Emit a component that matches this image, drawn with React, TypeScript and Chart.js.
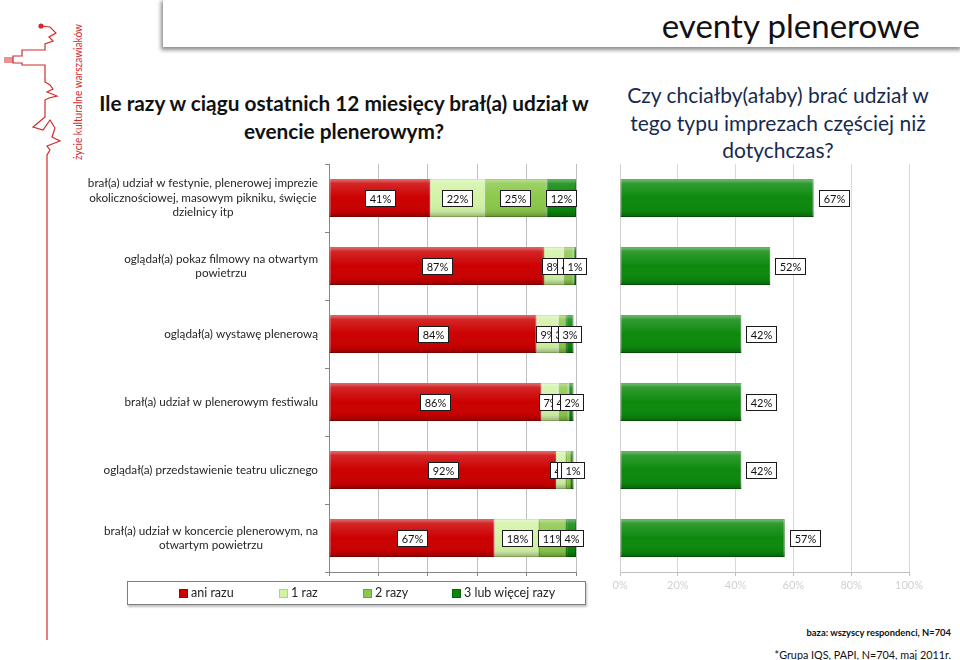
import React, { useEffect, useRef } from "react";
import { Chart, registerables } from "chart.js";

Chart.register(...registerables);

const categories: string[][] = [
  ["brał(a) udział w festynie, plenerowej imprezie", "okolicznościowej, masowym pikniku, święcie", "dzielnicy itp"],
  ["oglądał(a) pokaz filmowy na otwartym", "powietrzu"],
  ["oglądał(a) wystawę plenerową"],
  ["brał(a) udział w plenerowym festiwalu"],
  ["oglądał(a) przedstawienie teatru ulicznego"],
  ["brał(a) udział w koncercie plenerowym, na", "otwartym powietrzu"],
];
const seriesNames = ["ani razu", "1 raz", "2 razy", "3 lub więcej razy"];
const aniRazu = [41, 87, 84, 86, 92, 67];
const jedenRaz = [22, 8, 9, 7, 4, 18];
const dwaRazy = [25, 4, 3, 4, 2, 11];
const trzyRazy = [12, 1, 3, 2, 1, 4];
const czesciej = [67, 52, 42, 42, 42, 57];
const axisMax = 100;
const axisStep = 20;

const seriesColors = ["#cc0000", "#d2f3a6", "#8cc84b", "#0b880b"];
const seriesBorders = ["#a30000", "#a9d77a", "#6aa832", "#066606"];
const rightColor = "#0d8a0d";
const rightBorder = "#076a07";

const FONT = "Lato, 'Liberation Sans', sans-serif";

function drawBox(ctx: CanvasRenderingContext2D, text: string, x: number, cy: number, centered: boolean) {
  ctx.save();
  ctx.font = `11px ${FONT}`;
  const w = Math.round(ctx.measureText(text).width + 8);
  const h = 16;
  const left = Math.round(centered ? x - w / 2 : x);
  const top = Math.round(cy - h / 2);
  ctx.fillStyle = "#ffffff";
  ctx.fillRect(left, top, w, h);
  ctx.strokeStyle = "#1a1a1a";
  ctx.lineWidth = 1;
  ctx.strokeRect(left + 0.5, top + 0.5, w, h);
  ctx.fillStyle = "#111";
  ctx.textAlign = "center";
  ctx.textBaseline = "middle";
  ctx.fillText(text, left + w / 2 + 0.5, top + h / 2 + 1);
  ctx.restore();
}

function shadeBars(chart: any) {
  const ctx: CanvasRenderingContext2D = chart.ctx;
  chart.data.datasets.forEach((_: any, di: number) => {
    const meta = chart.getDatasetMeta(di);
    meta.data.forEach((el: any) => {
      const p = el.getProps(["x", "y", "base", "height"], true);
      const l = Math.min(p.x, p.base);
      const w = Math.abs(p.x - p.base);
      const t = p.y - p.height / 2;
      if (w <= 0) return;
      const g = ctx.createLinearGradient(0, t, 0, t + p.height);
      g.addColorStop(0, "rgba(255,255,255,0.45)");
      g.addColorStop(0.12, "rgba(255,255,255,0.15)");
      g.addColorStop(0.5, "rgba(255,255,255,0)");
      g.addColorStop(0.85, "rgba(0,0,0,0.05)");
      g.addColorStop(1, "rgba(0,0,0,0.28)");
      ctx.save();
      ctx.fillStyle = g;
      ctx.fillRect(l, t, w, p.height);
      ctx.restore();
    });
  });
}

const leftPlugin = {
  id: "leftDecor",
  afterDatasetsDraw(chart: any) {
    shadeBars(chart);
    chart.data.datasets.forEach((ds: any, di: number) => {
      const meta = chart.getDatasetMeta(di);
      meta.data.forEach((el: any, i: number) => {
        const p = el.getProps(["x", "y", "base"], true);
        drawBox(chart.ctx, ds.data[i] + "%", (p.x + p.base) / 2, p.y, true);
      });
    });
  },
  afterDraw(chart: any) {
    const ctx: CanvasRenderingContext2D = chart.ctx;
    const yScale = chart.scales.y;
    const right = chart.chartArea.left - 11;
    const lh = 14.5;
    ctx.save();
    ctx.font = `11.7px ${FONT}`;
    ctx.fillStyle = "#262626";
    ctx.textAlign = "center";
    ctx.textBaseline = "middle";
    categories.forEach((lines, i) => {
      const y = yScale.getPixelForValue(i);
      const bw = Math.max(...lines.map((s) => ctx.measureText(s).width));
      const cx = right - bw / 2;
      lines.forEach((s, k) => {
        ctx.fillText(s, cx, y + (k - (lines.length - 1) / 2) * lh);
      });
    });
    ctx.restore();
  },
};

const rightPlugin = {
  id: "rightDecor",
  afterDatasetsDraw(chart: any) {
    shadeBars(chart);
    const ds = chart.data.datasets[0];
    chart.getDatasetMeta(0).data.forEach((el: any, i: number) => {
      const p = el.getProps(["x", "y"], true);
      drawBox(chart.ctx, ds.data[i] + "%", p.x + 5, p.y, false);
    });
  },
};

function LeftChart() {
  const ref = useRef<HTMLCanvasElement>(null);
  useEffect(() => {
    const labels = categories.map((c) => c.join(" "));
    const values = [aniRazu, jedenRaz, dwaRazy, trzyRazy];
    const chart = new Chart(ref.current!, {
      type: "bar",
      data: {
        labels,
        datasets: values.map((d, i) => ({
          label: seriesNames[i],
          data: d,
          backgroundColor: seriesColors[i],
          borderColor: seriesBorders[i],
          borderWidth: 1,
          borderSkipped: false,
          categoryPercentage: 1,
          barPercentage: 0.56,
        })),
      },
      options: {
        indexAxis: "y",
        animation: false,
        responsive: false,
        devicePixelRatio: 1,
        layout: { padding: { top: 14, right: 14, left: 0, bottom: 0 } },
        plugins: { legend: { display: false }, tooltip: { enabled: false } },
        scales: {
          x: {
            stacked: true,
            min: 0,
            max: axisMax,
            ticks: { display: false, stepSize: axisStep },
            grid: { color: "#bfbfbf", tickLength: 4, tickColor: "#868686" },
            border: { display: true, color: "#868686" },
            afterFit: (s: any) => { s.height = 18; },
          },
          y: {
            stacked: true,
            ticks: { display: false },
            grid: { drawOnChartArea: false, offset: true, tickLength: 4, color: "#868686" },
            border: { display: true, color: "#868686" },
            afterFit: (s: any) => { s.width = 269; },
          },
        },
      },
      plugins: [leftPlugin],
    } as any);
    return () => chart.destroy();
  }, []);
  return (
    <canvas
      ref={ref}
      width={530}
      height={440}
      style={{ position: "absolute", left: 60, top: 150, width: 530, height: 440 }}
    />
  );
}

function RightChart() {
  const ref = useRef<HTMLCanvasElement>(null);
  useEffect(() => {
    const labels = categories.map((c) => c.join(" "));
    const chart = new Chart(ref.current!, {
      type: "bar",
      data: {
        labels,
        datasets: [
          {
            label: "częściej",
            data: czesciej,
            backgroundColor: rightColor,
            borderColor: rightBorder,
            borderWidth: 1,
            borderSkipped: false,
            categoryPercentage: 1,
            barPercentage: 0.56,
          },
        ],
      },
      options: {
        indexAxis: "y",
        animation: false,
        responsive: false,
        devicePixelRatio: 1,
        layout: { padding: { top: 14, right: 51, left: 0, bottom: 0 } },
        plugins: { legend: { display: false }, tooltip: { enabled: false } },
        scales: {
          x: {
            min: 0,
            max: axisMax,
            ticks: {
              stepSize: axisStep,
              color: "#d0d0d0",
              font: { family: FONT, size: 11 },
              padding: 3,
              callback: (v: any) => v + "%",
            },
            grid: { color: "#d9d9d9", tickLength: 4, tickColor: "#bfbfbf" },
            border: { display: true, color: "#bfbfbf" },
            afterFit: (s: any) => { s.height = 28; },
          },
          y: {
            ticks: { display: false },
            grid: { display: false },
            border: { display: true, color: "#d0d0d0" },
            afterFit: (s: any) => { s.width = 20; },
          },
        },
      },
      plugins: [rightPlugin],
    } as any);
    return () => chart.destroy();
  }, []);
  return (
    <canvas
      ref={ref}
      width={360}
      height={450}
      style={{ position: "absolute", left: 600, top: 150, width: 360, height: 450 }}
    />
  );
}

const legendOffsets = [51, 151, 235, 324];

function Legend() {
  return (
    <div
      style={{
        position: "absolute",
        left: 127,
        top: 581,
        width: 457,
        height: 22,
        border: "1px solid #7f7f7f",
        background: "#fff",
        boxShadow: "1px 2px 2px rgba(0,0,0,0.25)",
        fontFamily: FONT,
        fontSize: 12.5,
        color: "#262626",
      }}
    >
      {seriesNames.map((n, i) => (
        <div
          key={n}
          style={{ position: "absolute", left: legendOffsets[i], top: 3, display: "flex", alignItems: "center", whiteSpace: "nowrap", lineHeight: "16px" }}
        >
          <span
            style={{
              display: "inline-block",
              width: 7,
              height: 7,
              background: seriesColors[i],
              border: `1px solid ${seriesBorders[i]}`,
              marginRight: 3,
            }}
          />
          {n}
        </div>
      ))}
    </div>
  );
}

function Logo() {
  const pts = [
    [41, 26], [50, 27], [56, 33], [49, 37], [53, 41], [45, 44], [45, 50], [22, 50], [22, 56], [13, 56],
    [13, 63], [22, 63], [22, 65], [45, 65], [45, 82], [50, 85], [53, 89], [47, 92], [57, 96], [49, 98],
    [45, 100], [45, 117], [39, 122], [33, 127], [43, 130], [50, 120], [55, 128], [52, 137], [60, 141],
    [47, 146], [50, 150], [47, 155], [47, 640],
  ];
  return (
    <svg width={110} height={660} style={{ position: "absolute", left: 0, top: 0 }}>
      <polyline points={pts.map((p) => p.join(",")).join(" ")} fill="none" stroke="#d42a2a" strokeWidth={1.2} />
      <circle cx={41} cy={26} r={2.6} fill="#d42a2a" />
      <line x1={4} y1={58} x2={13} y2={58} stroke="#d42a2a" strokeWidth={1} />
      <line x1={4} y1={60} x2={13} y2={60} stroke="#d42a2a" strokeWidth={1} />
      <line x1={4} y1={62} x2={13} y2={62} stroke="#d42a2a" strokeWidth={1} />
      <text
        x={0}
        y={0}
        transform="translate(82,160) rotate(-90)"
        fill="#d42a2a"
        fontSize={11.5}
        fontFamily={FONT}
        textLength={136}
        lengthAdjust="spacingAndGlyphs"
      >
        życie kulturalne warszawiaków
      </text>
    </svg>
  );
}

export default function App() {
  return (
    <div
      style={{
        position: "absolute",
        left: 0,
        top: 0,
        width: 960,
        height: 660,
        background: "#fff",
        overflow: "hidden",
        fontFamily: FONT,
      }}
    >
      <div
        style={{
          position: "absolute",
          left: 163,
          top: -2,
          width: 800,
          height: 49,
          background: "#fff",
          boxShadow: "-2px 3px 4px rgba(0,0,0,0.45)",
        }}
      />
      <div
        style={{
          position: "absolute",
          right: 40,
          top: 3,
          fontSize: 33,
          color: "#111",
          lineHeight: "44px",
          whiteSpace: "nowrap",
        }}
      >
        eventy plenerowe
      </div>
      <Logo />
      <div
        style={{
          position: "absolute",
          left: 64,
          top: 89,
          width: 560,
          textAlign: "center",
          fontWeight: "bold",
          fontSize: 20.8,
          lineHeight: "28px",
          color: "#111",
        }}
      >
        Ile razy w ciągu ostatnich 12 miesięcy brał(a) udział w
        <br />
        evencie plenerowym?
      </div>
      <div
        style={{
          position: "absolute",
          left: 600,
          top: 81,
          width: 356,
          textAlign: "center",
          fontSize: 21,
          lineHeight: "27.5px",
          color: "#172b4f",
        }}
      >
        Czy chciałby(ałaby) brać udział w
        <br />
        tego typu imprezach częściej niż
        <br />
        dotychczas?
      </div>
      <LeftChart />
      <RightChart />
      <Legend />
      <div
        style={{
          position: "absolute",
          right: 9,
          top: 627,
          fontSize: 9.4,
          fontWeight: "bold",
          color: "#111",
          whiteSpace: "nowrap",
        }}
      >
        baza: wszyscy respondenci, N=704
      </div>
      <div
        style={{
          position: "absolute",
          right: 9,
          top: 648,
          fontSize: 10.8,
          color: "#111",
          whiteSpace: "nowrap",
        }}
      >
        *Grupa IQS, PAPI, N=704, maj 2011r.
      </div>
    </div>
  );
}
